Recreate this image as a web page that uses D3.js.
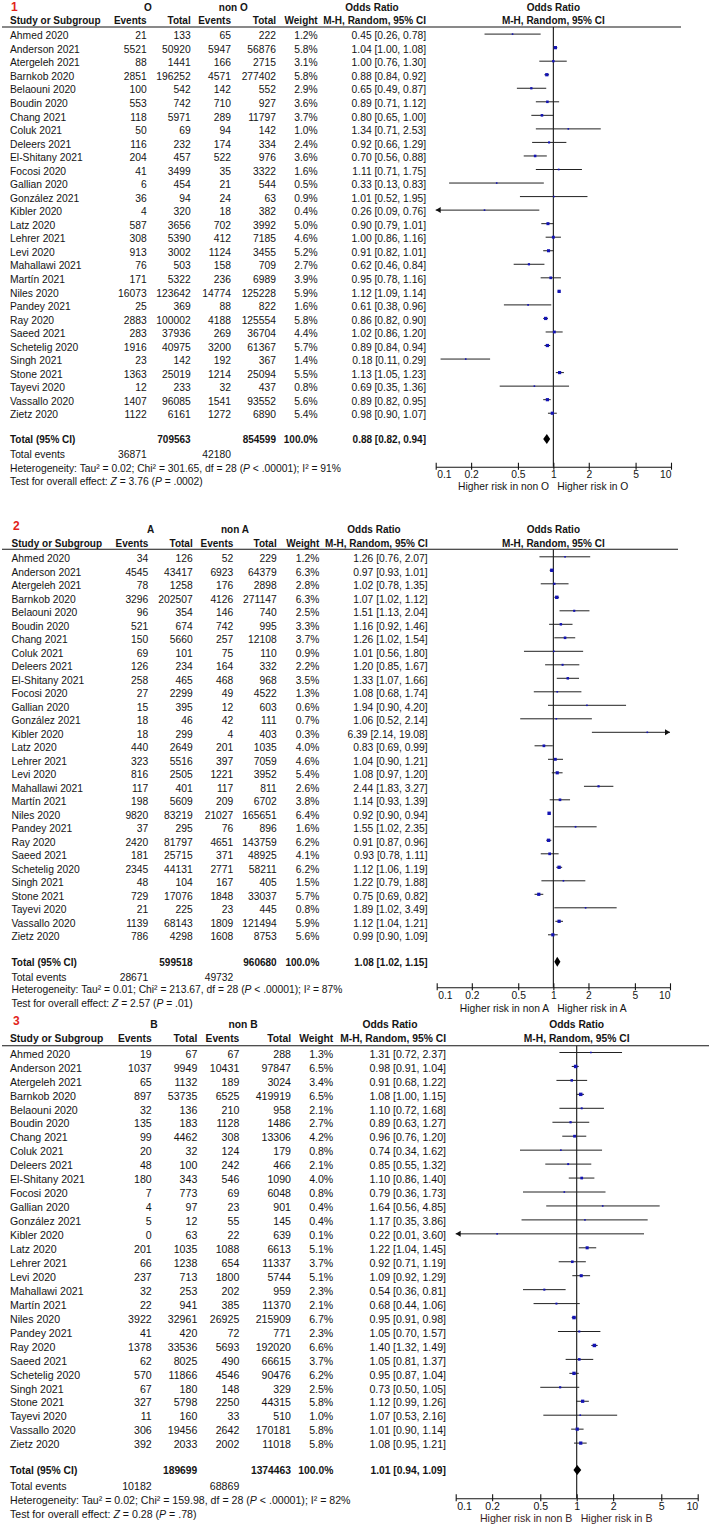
<!DOCTYPE html>
<html><head><meta charset="utf-8">
<script src="https://cdn.jsdelivr.net/npm/d3@7"></script>
<style>html,body{margin:0;padding:0;background:#fff}</style>
</head><body><svg id="c" width="709" height="1527"></svg>
<script>
// ---------------- DATA ----------------
const studies = ["Ahmed 2020","Anderson 2021","Atergeleh 2021","Barnkob 2020","Belaouni 2020","Boudin 2020","Chang 2021","Coluk 2021","Deleers 2021","El-Shitany 2021","Focosi 2020","Gallian 2020","González 2021","Kibler 2020","Latz 2020","Lehrer 2021","Levi 2020","Mahallawi 2021","Martín 2021","Niles 2020","Pandey 2021","Ray 2020","Saeed 2021","Schetelig 2020","Singh 2021","Stone 2021","Tayevi 2020","Vassallo 2020","Zietz 2020"];
const axisTicks = [0.1, 0.2, 0.5, 1, 2, 5, 10];

// Panel 1: O vs non O
const oEvents = [21,5521,88,2851,100,553,118,50,116,204,41,6,36,4,587,308,913,76,171,16073,25,2883,283,1916,23,1363,12,1407,1122];
const oTotal = [133,50920,1441,196252,542,742,5971,69,232,457,3499,454,94,320,3656,5390,3002,503,5322,123642,369,100002,37936,40975,142,25019,233,96085,6161];
const nonOEvents = [65,5947,166,4571,142,710,289,94,174,522,35,21,24,18,702,412,1124,158,236,14774,88,4188,269,3200,192,1214,32,1541,1272];
const nonOTotal = [222,56876,2715,277402,552,927,11797,142,334,976,3322,544,63,382,3992,7185,3455,709,6989,125228,822,125554,36704,61367,367,25094,437,93552,6890];
const oWeight = [1.2,5.8,3.1,5.8,2.9,3.6,3.7,1.0,2.4,3.6,1.6,0.5,0.9,0.4,5.0,4.6,5.2,2.7,3.9,5.9,1.6,5.8,4.4,5.7,1.4,5.5,0.8,5.6,5.4];
const oOR = [0.45,1.04,1.00,0.88,0.65,0.89,0.80,1.34,0.92,0.70,1.11,0.33,1.01,0.26,0.90,1.00,0.91,0.62,0.95,1.12,0.61,0.86,1.02,0.89,0.18,1.13,0.69,0.89,0.98];
const oLow = [0.26,1.00,0.76,0.84,0.49,0.71,0.65,0.71,0.66,0.56,0.71,0.13,0.52,0.09,0.79,0.86,0.82,0.46,0.78,1.09,0.38,0.82,0.86,0.84,0.11,1.05,0.35,0.82,0.90];
const oHigh = [0.78,1.08,1.30,0.92,0.87,1.12,1.00,2.53,1.29,0.88,1.75,0.83,1.95,0.76,1.01,1.16,1.01,0.84,1.16,1.14,0.96,0.90,1.20,0.94,0.29,1.23,1.36,0.95,1.07];
const oTotals = [709563, 854599];
const oTotalEvents = [36871, 42180];
const oPooled = [0.88, 0.82, 0.94];
const oHet = ["0.02", "301.65", "28", ".00001", "91"];
const oTest = ["3.76", "= .0002"];

// Panel 2: A vs non A
const aEvents = [34,4545,78,3296,96,521,150,69,126,258,27,15,18,18,440,323,816,117,198,9820,37,2420,181,2345,48,729,21,1139,786];
const aTotal = [126,43417,1258,202507,354,674,5660,101,234,465,2299,395,46,299,2649,5516,2505,401,5609,83219,295,81797,25715,44131,104,17076,225,68143,4298];
const nonAEvents = [52,6923,176,4126,146,742,257,75,164,468,49,12,42,4,201,397,1221,117,209,21027,76,4651,371,2771,167,1848,23,1809,1608];
const nonATotal = [229,64379,2898,271147,740,995,12108,110,332,968,4522,603,111,403,1035,7059,3952,811,6702,165651,896,143759,48925,58211,405,33037,445,121494,8753];
const aWeight = [1.2,6.3,2.8,6.3,2.5,3.3,3.7,0.9,2.2,3.5,1.3,0.6,0.7,0.3,4.0,4.6,5.4,2.6,3.8,6.4,1.6,6.2,4.1,6.2,1.5,5.7,0.8,5.9,5.6];
const aOR = [1.26,0.97,1.02,1.07,1.51,1.16,1.26,1.01,1.20,1.33,1.08,1.94,1.06,6.39,0.83,1.04,1.08,2.44,1.14,0.92,1.55,0.91,0.93,1.12,1.22,0.75,1.89,1.12,0.99];
const aLow = [0.76,0.93,0.78,1.02,1.13,0.92,1.02,0.56,0.85,1.07,0.68,0.90,0.52,2.14,0.69,0.90,0.97,1.83,0.93,0.90,1.02,0.87,0.78,1.06,0.79,0.69,1.02,1.04,0.90];
const aHigh = [2.07,1.01,1.35,1.12,2.04,1.46,1.54,1.80,1.67,1.66,1.74,4.20,2.14,19.08,0.99,1.21,1.20,3.27,1.39,0.94,2.35,0.96,1.11,1.19,1.88,0.82,3.49,1.21,1.09];
const aTotals = [599518, 960680];
const aTotalEvents = [28671, 49732];
const aPooled = [1.08, 1.02, 1.15];
const aHet = ["0.01", "213.67", "28", ".00001", "87"];
const aTest = ["2.57", "= .01"];

// Panel 3: B vs non B
const bEvents = [19,1037,65,897,32,135,99,20,48,180,7,4,5,0,201,66,237,32,22,3922,41,1378,62,570,67,327,11,306,392];
const bTotal = [67,9949,1132,53735,136,183,4462,32,100,343,773,97,12,63,1035,1238,713,253,941,32961,420,33536,8025,11866,180,5798,160,19456,2033];
const nonBEvents = [67,10431,189,6525,210,1128,308,124,242,546,69,23,55,22,1088,654,1800,202,385,26925,72,5693,490,4546,148,2250,33,2642,2002];
const nonBTotal = [288,97847,3024,419919,958,1486,13306,179,466,1090,6048,901,145,639,6613,11337,5744,959,11370,215909,771,192020,66615,90476,329,44315,510,170181,11018];
const bWeight = [1.3,6.5,3.4,6.5,2.1,2.7,4.2,0.8,2.1,4.0,0.8,0.4,0.4,0.1,5.1,3.7,5.1,2.3,2.1,6.7,2.3,6.6,3.7,6.2,2.5,5.8,1.0,5.8,5.8];
const bOR = [1.31,0.98,0.91,1.08,1.10,0.89,0.96,0.74,0.85,1.10,0.79,1.64,1.17,0.22,1.22,0.92,1.09,0.54,0.68,0.95,1.05,1.40,1.05,0.95,0.73,1.12,1.07,1.01,1.08];
const bLow = [0.72,0.91,0.68,1.00,0.72,0.63,0.76,0.34,0.55,0.86,0.36,0.56,0.35,0.01,1.04,0.71,0.92,0.36,0.44,0.91,0.70,1.32,0.81,0.87,0.50,0.99,0.53,0.90,0.95];
const bHigh = [2.37,1.04,1.22,1.15,1.68,1.27,1.20,1.62,1.32,1.40,1.73,4.85,3.86,3.60,1.45,1.19,1.29,0.81,1.06,0.98,1.57,1.49,1.37,1.04,1.05,1.26,2.16,1.14,1.21];
const bTotals = [189699, 1374463];
const bTotalEvents = [10182, 68869];
const bPooled = [1.01, 0.94, 1.09];
const bHet = ["0.02", "159.98", "28", ".00001", "82"];
const bTest = ["0.28", "= .78"];

// ---------------- DRAWING ----------------
const svg = d3.select("#c");
svg.append("rect").attr("width", 709).attr("height", 1527).attr("fill", "#fff");
const FONT = "'Liberation Sans', Arial, Helvetica, sans-serif";
const INK = "#141414";

const panels = [
  { num: "1", g1: "O", g2: "non O",
    ev1: oEvents, tot1: oTotal, ev2: nonOEvents, tot2: nonOTotal, w: oWeight, or: oOR, lo: oLow, hi: oHigh,
    totals: oTotals, totEv: oTotalEvents, pooled: oPooled, het: oHet, test: oTest,
    L: { numX: 11, numY: 11, h1Y: 10.5, h2Y: 24, lineY: 27, lineX2: 681, row0: 39.3, dy: 13.54,
         totalY: 443.3, evY: 458.3, hetY: 472.3, testY: 485, axisY: 466.7, riskY: 489.5,
         x01: 435.7, x10: 671, nameX: 10, e1: 146.7, t1: 190.7, e2: 231, t2: 276, wX: 317.7, orX: 426,
         g1c: 148, g2c: 233.3, orHdrC: 372, fs: 10.3, hfs: 10, riskFill: INK } },
  { num: "2", g1: "A", g2: "non A",
    ev1: aEvents, tot1: aTotal, ev2: nonAEvents, tot2: nonATotal, w: aWeight, or: aOR, lo: aLow, hi: aHigh,
    totals: aTotals, totEv: aTotalEvents, pooled: aPooled, het: aHet, test: aTest,
    L: { numX: 13, numY: 530, h1Y: 533.3, h2Y: 546.7, lineY: 549.3, lineX2: 678, row0: 562, dy: 13.5,
         totalY: 966, evY: 980.7, hetY: 993, testY: 1006.5, axisY: 987.3, riskY: 1012.3,
         x01: 436.7, x10: 670, nameX: 11.5, e1: 148.3, t1: 192.7, e2: 233.3, t2: 276.7, wX: 319.3, orX: 427.7,
         g1c: 150.7, g2c: 235, orHdrC: 374, fs: 10.3, hfs: 10, riskFill: INK } },
  { num: "3", g1: "B", g2: "non B",
    ev1: bEvents, tot1: bTotal, ev2: nonBEvents, tot2: nonBTotal, w: bWeight, or: bOR, lo: bLow, hi: bHigh,
    totals: bTotals, totEv: bTotalEvents, pooled: bPooled, het: bHet, test: bTest,
    L: { numX: 13, numY: 1025, h1Y: 1028.3, h2Y: 1042.3, lineY: 1045.7, lineX2: 709, row0: 1057.7, dy: 13.95,
         totalY: 1474.3, evY: 1490, hetY: 1504.3, testY: 1517.7, axisY: 1498.3, riskY: 1521.7,
         x01: 455.7, x10: 697.7, nameX: 10, e1: 151.7, t1: 197.3, e2: 239.3, t2: 291, wX: 333.3, orX: 446,
         g1c: 154, g2c: 243, orHdrC: 390, fs: 10.6, hfs: 10.3, riskFill: "#3a2424" } }
];

const f2 = d3.format(".2f");
const f1 = d3.format(".1f");

function drawPanel(p) {
  const L = p.L;
  const g = svg.append("g");
  const x = d3.scaleLog().domain([0.1, 10]).range([L.x01, L.x10]);
  const n = studies.length;
  const y = d3.scaleLinear().domain([0, n - 1]).range([L.row0, L.row0 + (n - 1) * L.dy]);

  const text = (xx, yy, str, o = {}) => g.append("text")
    .attr("x", xx).attr("y", yy)
    .attr("font-family", FONT)
    .attr("font-size", o.fs || L.fs)
    .attr("font-weight", o.bold ? "bold" : "normal")
    .attr("text-anchor", o.anchor || "start")
    .attr("fill", o.fill || INK)
    .text(str);

  // panel number
  text(L.numX, L.numY, p.num, { bold: true, fs: 12, fill: "#e2231a" });

  // header row 1
  const H = { bold: true, fs: L.hfs };
  text(L.g1c, L.h1Y, p.g1, { ...H, anchor: "middle" });
  text(L.g2c, L.h1Y, p.g2, { ...H, anchor: "middle" });
  text(L.orHdrC, L.h1Y, "Odds Ratio", { ...H, anchor: "middle" });
  text(x(1), L.h1Y, "Odds Ratio", { ...H, anchor: "middle" });
  // header row 2
  text(L.nameX, L.h2Y, "Study or Subgroup", H);
  text(L.e1, L.h2Y, "Events", { ...H, anchor: "end" });
  text(L.t1, L.h2Y, "Total", { ...H, anchor: "end" });
  text(L.e2, L.h2Y, "Events", { ...H, anchor: "end" });
  text(L.t2, L.h2Y, "Total", { ...H, anchor: "end" });
  text(L.wX, L.h2Y, "Weight", { ...H, anchor: "end" });
  text(L.orX, L.h2Y, "M-H, Random, 95% CI", { ...H, anchor: "end" });
  text(x(1), L.h2Y, "M-H, Random, 95% CI", { ...H, anchor: "middle" });

  // header rule
  g.append("line").attr("x1", 2).attr("x2", L.lineX2).attr("y1", L.lineY).attr("y2", L.lineY)
    .attr("stroke", INK).attr("stroke-width", 1.1);

  // null line
  g.append("line").attr("x1", x(1)).attr("x2", x(1)).attr("y1", L.lineY).attr("y2", L.axisY)
    .attr("stroke", INK).attr("stroke-width", 1.1);

  // study rows
  studies.forEach((s, i) => {
    const by = y(i);
    text(L.nameX, by, s);
    text(L.e1, by, p.ev1[i], { anchor: "end" });
    text(L.t1, by, p.tot1[i], { anchor: "end" });
    text(L.e2, by, p.ev2[i], { anchor: "end" });
    text(L.t2, by, p.tot2[i], { anchor: "end" });
    text(L.wX, by, f1(p.w[i]) + "%", { anchor: "end" });
    text(L.orX, by, `${f2(p.or[i])} [${f2(p.lo[i])}, ${f2(p.hi[i])}]`, { anchor: "end" });

    const cy = by - 5.2;
    const lo = Math.max(p.lo[i], 0.1), hi = Math.min(p.hi[i], 10);
    g.append("line").attr("x1", x(lo)).attr("x2", x(hi)).attr("y1", cy).attr("y2", cy)
      .attr("stroke", "#222").attr("stroke-width", 1);
    if (p.lo[i] < 0.1) {
      const ax = x(0.1);
      g.append("path").attr("d", `M${ax},${cy}L${ax + 5},${cy - 3}L${ax + 5},${cy + 3}Z`).attr("fill", "#111");
    }
    if (p.hi[i] > 10) {
      const ax = x(10);
      g.append("path").attr("d", `M${ax},${cy}L${ax - 5},${cy - 3}L${ax - 5},${cy + 3}Z`).attr("fill", "#111");
    }
    const side = Math.max(1.6, 1.35 * Math.sqrt(p.w[i]));
    g.append("rect").attr("x", x(p.or[i]) - side / 2).attr("y", cy - side / 2)
      .attr("width", side).attr("height", side).attr("fill", "#1414b4");
  });

  // total row
  text(L.nameX, L.totalY, "Total (95% CI)", H);
  text(L.t1, L.totalY, p.totals[0], { ...H, anchor: "end" });
  text(L.t2, L.totalY, p.totals[1], { ...H, anchor: "end" });
  text(L.wX, L.totalY, "100.0%", { ...H, anchor: "end" });
  text(L.orX, L.totalY, `${f2(p.pooled[0])} [${f2(p.pooled[1])}, ${f2(p.pooled[2])}]`, { ...H, anchor: "end" });

  const dy0 = L.totalY - 4.3;
  g.append("path")
    .attr("d", `M${x(p.pooled[1])},${dy0}L${x(p.pooled[0])},${dy0 - 5}L${x(p.pooled[2])},${dy0}L${x(p.pooled[0])},${dy0 + 5}Z`)
    .attr("fill", "#000");

  // total events
  text(L.nameX, L.evY, "Total events");
  text(L.e1, L.evY, p.totEv[0], { anchor: "end" });
  text(L.e2, L.evY, p.totEv[1], { anchor: "end" });

  // footers
  const rich = (yy, parts) => {
    const t = g.append("text").attr("x", L.nameX).attr("y", yy)
      .attr("font-family", FONT).attr("font-size", L.fs).attr("fill", INK);
    parts.forEach(([s, it]) => t.append("tspan").attr("font-style", it ? "italic" : "normal").text(s));
  };
  const h = p.het;
  rich(L.hetY, [[`Heterogeneity: Tau² = ${h[0]}; Chi² = ${h[1]}, df = ${h[2]} (`], ["P", 1], [` < ${h[3]}); I² = ${h[4]}%`]]);
  rich(L.testY, [["Test for overall effect: "], ["Z", 1], [` = ${p.test[0]} (`], ["P", 1], [` ${p.test[1]})`]]);

  // axis
  const axis = d3.axisBottom(x).tickValues(axisTicks).tickFormat(d => String(d))
    .tickSizeInner(-4).tickSizeOuter(0).tickPadding(4.4);
  const ag = g.append("g").attr("transform", `translate(0,${L.axisY})`).call(axis);
  ag.select(".domain").attr("stroke", INK).attr("stroke-width", 1.1);
  ag.selectAll(".tick line").attr("stroke", INK).attr("y1", 3).attr("stroke-width", 1.1);
  ag.selectAll(".tick text").attr("font-family", FONT).attr("font-size", L.fs).attr("fill", INK)
    .attr("text-anchor", d => d === 0.1 ? "start" : d === 10 ? "end" : "middle")
    .attr("dx", d => d === 0.1 ? 1 : 0);

  // direction labels
  text(x(1) - 4.3, L.riskY, `Higher risk in ${p.g2}`, { anchor: "end", fill: L.riskFill });
  text(x(1) + 4, L.riskY, `Higher risk in ${p.g1}`, { fill: L.riskFill });
}

panels.forEach(drawPanel);
</script></body></html>
